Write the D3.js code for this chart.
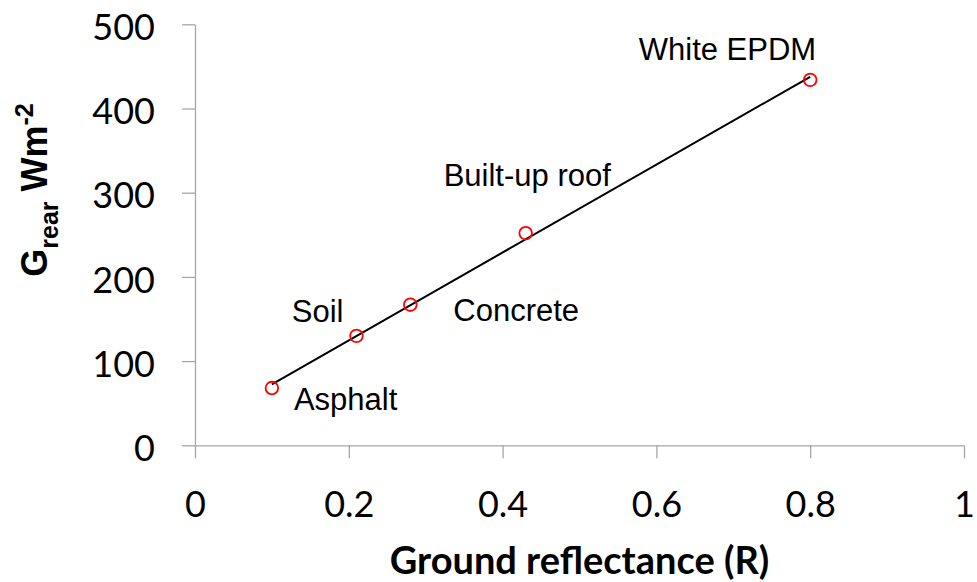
<!DOCTYPE html>
<html>
<head>
<meta charset="utf-8">
<script src="https://cdn.jsdelivr.net/npm/d3@7"></script>
<style>
  body { margin: 0; background: #fff; }
  .axis path, .axis line { stroke: #a6a6a6; stroke-width: 1.3; }
  .axis text { font-family: Lato, sans-serif; font-size: 36px; fill: #000; }
</style>
</head>
<body>
<svg id="chart" width="977" height="582"></svg>
<script>
// surfaces and what the rear side of the module receives
var surfaces = ['Asphalt', 'Soil', 'Concrete', 'Built-up roof', 'White EPDM'];
var reflectance = [0.10, 0.21, 0.28, 0.43, 0.80];
var gRear = [68, 130, 167, 252, 434];
var xTicks = [0, 0.2, 0.4, 0.6, 0.8, 1];
var yTicks = [0, 100, 200, 300, 400, 500];

// where each label sits relative to its marker (px)
var labelPos = {
  'Asphalt':       { dx: 22,  dy: 22,  anchor: 'start' },
  'Soil':          { dx: -13, dy: -14, anchor: 'end' },
  'Concrete':      { dx: 43,  dy: 16,  anchor: 'start' },
  'Built-up roof': { dx: -82, dy: -47, anchor: 'start' },
  'White EPDM':    { dx: 6,   dy: -20, anchor: 'end' }
};

var svg = d3.select('#chart'),
    margin = {top: 24.3, right: 13, bottom: 136.7, left: 195},
    width = +svg.attr('width') - margin.left - margin.right,
    height = +svg.attr('height') - margin.top - margin.bottom;

var g = svg.append('g').attr('transform', 'translate(' + margin.left + ',' + margin.top + ')');

var x = d3.scaleLinear().domain([0, 1]).range([0, width]);
var y = d3.scaleLinear().domain([0, 500]).range([height, 0]);

// axes
g.append('g')
    .attr('class', 'axis')
    .attr('transform', 'translate(0,' + height + ')')
    .call(d3.axisBottom(x).tickValues(xTicks).tickSize(13).tickSizeOuter(0).tickPadding(34)
      .tickFormat(function(d) { return d === 0 || d === 1 ? d : d3.format('.1f')(d); }))
    .selectAll('text').attr('dy', '0.68em');

g.append('g')
    .attr('class', 'axis')
    .call(d3.axisLeft(y).tickValues(yTicks).tickSize(13).tickSizeOuter(0).tickPadding(27))
    .selectAll('text').attr('dy', '0.42em');

// trend line (least squares through the points)
var pts = reflectance.map(function(r, i) { return {name: surfaces[i], x: r, y: gRear[i]}; });
var mx = d3.mean(reflectance), my = d3.mean(gRear);
var sxy = d3.sum(pts, function(d) { return (d.x - mx) * (d.y - my); });
var sxx = d3.sum(pts, function(d) { return (d.x - mx) * (d.x - mx); });
var slope = sxy / sxx, icpt = my - slope * mx;
var ext = d3.extent(reflectance);

g.append('path')
    .datum(ext.map(function(v) { return [v, icpt + slope * v]; }))
    .attr('fill', 'none')
    .attr('stroke', '#000')
    .attr('stroke-width', 2)
    .attr('d', d3.line().x(function(d) { return x(d[0]); }).y(function(d) { return y(d[1]); }));

// markers
g.selectAll('circle.pt')
    .data(pts)
    .enter().append('circle')
    .attr('class', 'pt')
    .attr('cx', function(d) { return x(d.x); })
    .attr('cy', function(d) { return y(d.y); })
    .attr('r', 6.3)
    .attr('fill', 'none')
    .attr('stroke', '#ff0000')
    .attr('stroke-width', 1.8);

// labels
g.selectAll('text.lbl')
    .data(pts)
    .enter().append('text')
    .attr('class', 'lbl')
    .attr('x', function(d) { return x(d.x) + labelPos[d.name].dx; })
    .attr('y', function(d) { return y(d.y) + labelPos[d.name].dy; })
    .attr('text-anchor', function(d) { return labelPos[d.name].anchor; })
    .style('font-family', '"Liberation Sans", Arial, sans-serif')
    .style('font-size', '31px')
    .text(function(d) { return d.name; });

// axis titles
svg.append('text')
    .attr('x', margin.left + width / 2)
    .attr('y', 574)
    .attr('text-anchor', 'middle')
    .style('font-family', 'Lato, sans-serif')
    .style('font-weight', 'bold')
    .style('font-size', '38px')
    .text('Ground reflectance (R)');

var yt = svg.append('text')
    .attr('transform', 'translate(46.5,190) rotate(-90)')
    .attr('text-anchor', 'middle')
    .style('font-family', '"Liberation Sans", Arial, sans-serif')
    .style('font-weight', 'bold')
    .style('font-size', '36px');
yt.append('tspan').text('G');
yt.append('tspan').attr('dy', 11).style('font-size', '25px').text('rear');
yt.append('tspan').attr('dy', -11).text(' Wm');
yt.append('tspan').attr('dy', -14).style('font-size', '25px').text('-2');
</script>
</body>
</html>
